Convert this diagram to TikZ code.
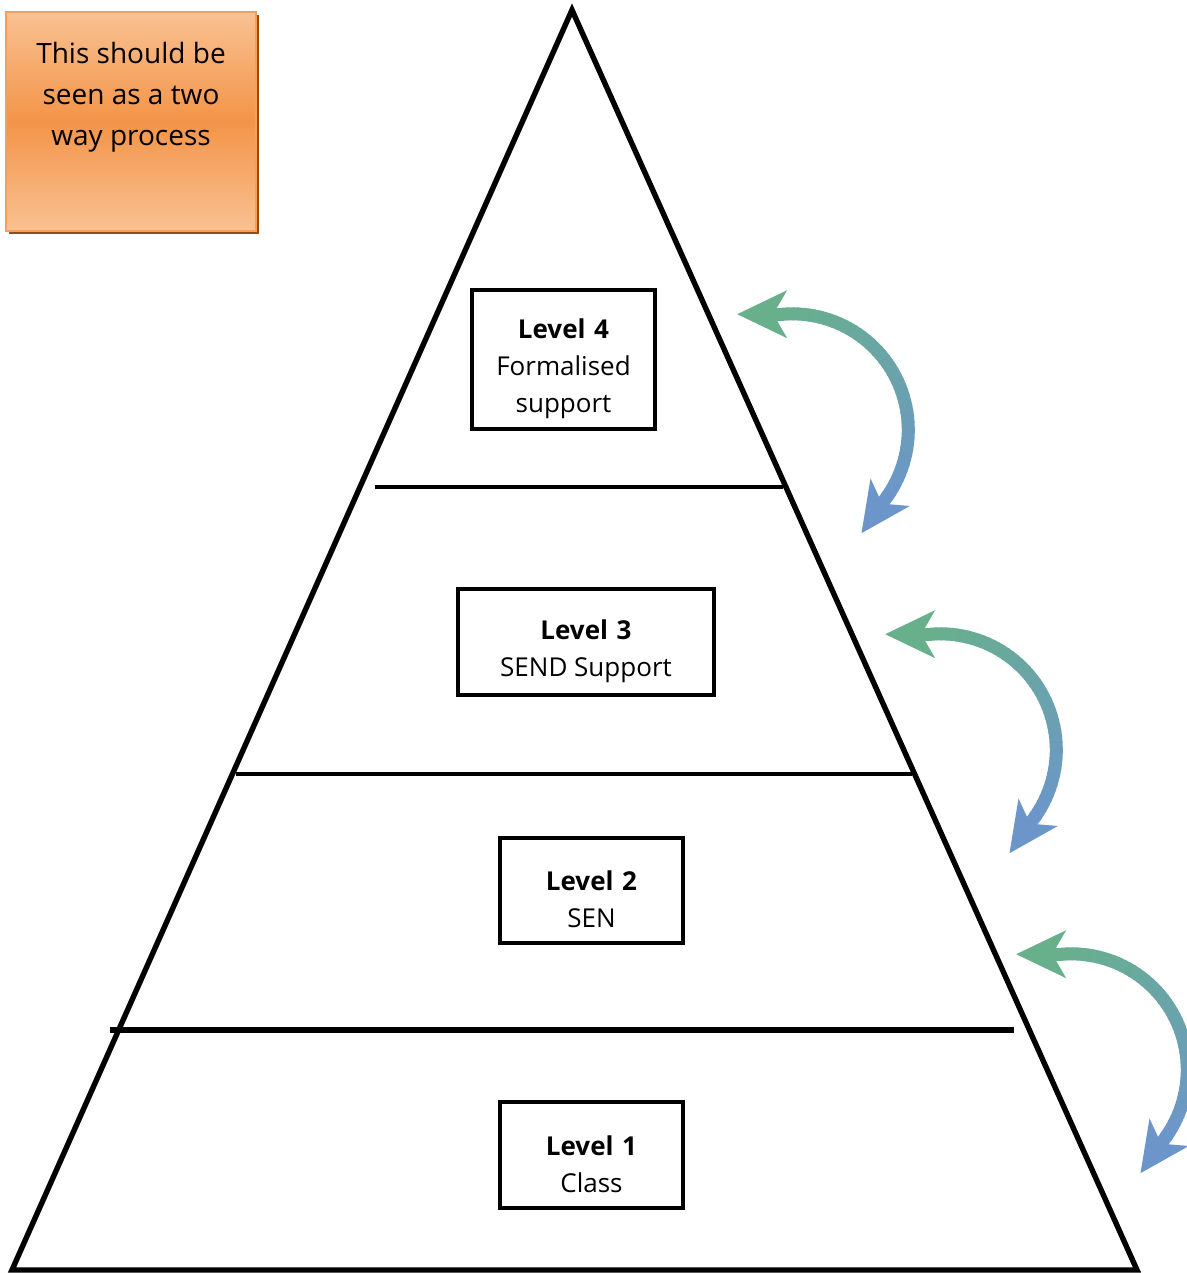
\documentclass[tikz,border=0pt]{standalone}
\usepackage{fontspec}
\setmainfont{Open Sans}
\definecolor{arrgreen}{RGB}{104,176,140}
\definecolor{arrblue}{RGB}{108,150,202}
\definecolor{orlight}{RGB}{249,193,146}
\definecolor{ormid}{RGB}{243,148,72}
\definecolor{orborder}{RGB}{244,160,90}
\definecolor{orshadow}{RGB}{155,74,11}
\newcommand{\twowayarrow}[2]{%
 \begin{scope}[shift={(#1,-#2)}]
  \foreach \k in {0,...,49} {
    \pgfmathsetmacro{\aa}{95-\k*2.6}
    \pgfmathsetmacro{\ab}{95-(\k+1)*2.6-0.6}
    \pgfmathsetmacro{\pc}{\k*2.0408}
    \draw[line width=6.5pt, color=arrblue!\pc!arrgreen]
      ({792.3+116*cos(\aa)},{-429.8+116*sin(\aa)}) --
      ({792.3+116*cos(\ab)},{-429.8+116*sin(\ab)});
  }
  \begin{scope}[shift={(782.2,-314.2)}, rotate=180]
    \fill[arrgreen] (-2,-6.5) rectangle (12,6.5);
    \fill[arrgreen] (45,0) -- (-5,24) -- (9,0) -- (-5,-24) -- cycle;
  \end{scope}
  \begin{scope}[shift={(887.3,-496.3)}, rotate=-125]
    \fill[arrblue] (-2,-6.5) rectangle (12,6.5);
    \fill[arrblue] (45,0) -- (-5,24) -- (9,0) -- (-5,-24) -- cycle;
  \end{scope}
 \end{scope}}
\begin{document}
\begin{tikzpicture}[x=0.5pt, y=0.5pt,
  levelbox/.style={draw=black, line width=2pt, fill=white, inner sep=0pt},
  leveltext/.style={align=center, font=\fontsize{13}{18.5}\selectfont, inner sep=0pt},
  divider/.style={line width=2pt},
  notetext/.style={align=center, font=\fontsize{14}{20.5}\selectfont, inner sep=0pt}]
\useasboundingbox (0,0) rectangle (1187,-1273);
\fill[white] (0,0) rectangle (1187,-1273);
% note box
\fill[orshadow] (9,-15) rectangle (259,-234);
\node[top color=orlight, bottom color=orlight, middle color=ormid, draw=orborder,
  line width=1.2pt, minimum width=125pt, minimum height=109.5pt, inner sep=0pt]
  (noteframe) at (131,-121.5) {};
\node[notetext] (note) at (131,-97) {This should be\\seen as a two\\way process};
% pyramid
\draw[line width=2.7pt, line join=miter] (572,-10) -- (1137,-1270) -- (12,-1270) -- cycle;
\draw[divider] (375,-487) -- (783,-487);
\draw[divider] (236,-774) -- (912,-774);
\draw[divider, line width=3pt] (110,-1030) -- (1014,-1030);
% level boxes
\node[levelbox, minimum width=91.5pt, minimum height=69.5pt] (l4) at (563.5,-359.5) {};
\node[leveltext] (l4t) at (563.5,-369) {\textbf{Level\,\,4}\\Formalised\\support};
\node[levelbox, minimum width=128pt, minimum height=53pt] (l3) at (586,-642) {};
\node[leveltext] (l3t) at (586,-651) {\textbf{Level\,\,3}\\SEND Support};
\node[levelbox, minimum width=91.5pt, minimum height=52.5pt] (l2) at (591.5,-890.5) {};
\node[leveltext] (l2t) at (591.5,-899.5) {\textbf{Level\,\,2}\\SEN};
\node[levelbox, minimum width=91.5pt, minimum height=53pt] (l1) at (591.5,-1155) {};
\node[leveltext] (l1t) at (591.5,-1164) {\textbf{Level\,\,1}\\Class};
% two-way arrows
\begin{scope}
\clip (0,0) rectangle (1187,-1273);
\twowayarrow{0}{0}
\twowayarrow{148}{320}
\twowayarrow{279}{640}
\end{scope}
\end{tikzpicture}
\end{document}
